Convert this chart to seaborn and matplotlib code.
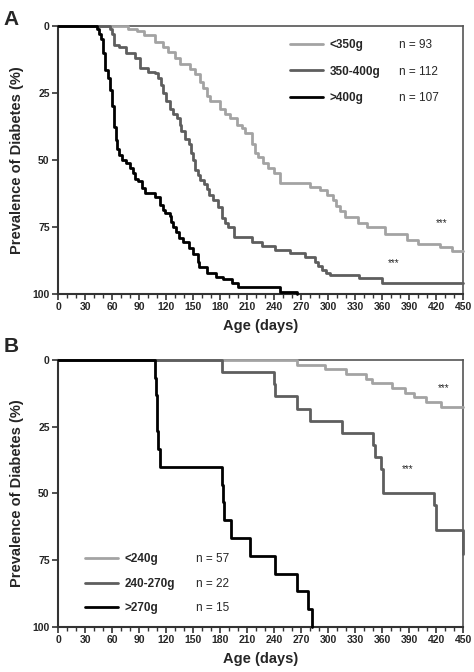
import matplotlib
matplotlib.use("Agg")
import matplotlib.pyplot as plt
from matplotlib.lines import Line2D
from matplotlib.ticker import MultipleLocator
import seaborn as sns
import pandas as pd

# panel A: days at which cumulative prevalence (%) steps up
a_light_days = [0, 78, 88, 95, 108, 117, 122, 130, 136, 147, 152, 158, 161, 165, 169, 180, 186, 191,
                199, 204, 208, 215, 219, 222, 228, 233, 240, 247, 280, 291, 299, 306, 309, 313, 319,
                333, 343, 363, 388, 400, 424, 438, 450]
a_light_pct = [0, 1, 2, 3.4, 5.8, 8, 9.6, 12, 14, 16, 18, 21, 23, 26, 28, 31, 33, 34.5,
               37, 38, 40, 44, 47.5, 49, 51, 53, 55, 58.7, 60, 61.2, 63, 65, 67, 69, 71.4,
               73.6, 75.1, 77.6, 79.9, 81.3, 82.6, 83.8, 83.8]

a_dark_days = [0, 58, 60, 62, 68, 76, 86, 91, 100, 108, 111, 114, 117, 120, 124, 128, 132, 135, 137,
               141, 145, 148, 150, 152, 155, 158, 162, 165, 168, 172, 178, 182, 186, 189, 195, 215,
               227, 241, 258, 274, 286, 289, 293, 298, 302, 334, 360, 450]
a_dark_pct = [0, 1, 3, 7, 8, 10, 12, 15.8, 17, 17.5, 19.5, 22, 25, 28, 31, 33, 34.5, 37, 39,
              42, 44, 47.5, 50, 53.7, 55.5, 57.5, 59, 61, 63, 65, 67.4, 71.8, 73.5, 75, 78.6, 80.5,
              82, 83.6, 84.8, 86.3, 88, 89.5, 91, 92, 93, 94.2, 95.8, 95.8]

a_black_days = [0, 43, 46, 48, 50, 52, 56, 58, 60, 62, 64, 66, 68, 71, 76, 80, 83, 86, 89, 93, 97,
                108, 113, 117, 119, 124, 126, 128, 131, 134, 139, 145, 150, 155, 157, 165, 176, 183,
                193, 200, 247, 265]
a_black_pct = [0, 1, 3, 5, 10, 16.4, 19.5, 24, 30, 37.6, 42.5, 46, 48, 50, 51.2, 53, 55, 57, 58, 60.6,
               62.4, 63.7, 66.8, 68.5, 69.9, 71, 73, 74.9, 77, 79.2, 80.5, 83, 85, 88, 89.8, 92.3,
               93.5, 94.5, 96, 97.5, 99.1, 100]

# panel B
b_light_days = [0, 265, 297, 320, 342, 349, 371, 386, 395, 409, 425, 450]
b_light_pct = [0, 1.75, 3.5, 5.26, 7.0, 8.77, 10.5, 12.3, 14.0, 15.8, 17.5, 17.5]

b_dark_days = [0, 182, 240, 241, 265, 280, 315, 350, 352, 359, 361, 418, 420, 450]
b_dark_pct = [0, 4.5, 9.1, 13.6, 18.2, 22.7, 27.3, 31.8, 36.4, 40.9, 50.0, 54.5, 63.6, 72.7]

b_black_days = [0, 108, 109, 110, 111, 113, 182, 183, 184, 192, 213, 241, 265, 278, 282]
b_black_pct = [0, 6.7, 13.3, 26.7, 33.3, 40.0, 46.7, 53.3, 60.0, 66.7, 73.3, 80.0, 86.7, 93.3, 100]

groups_a = ["<350g", "350-400g", ">400g"]
n_a = ["n = 93", "n = 112", "n = 107"]
groups_b = ["<240g", "240-270g", ">270g"]
n_b = ["n = 57", "n = 22", "n = 15"]

colors = ["#a3a3a3", "#5e5e5e", "#000000"]


def long_df(groups, days_list, pct_list):
    parts = []
    for g, d, p in zip(groups, days_list, pct_list):
        parts.append(pd.DataFrame({"group": g, "day": d, "pct": p}))
    return pd.concat(parts, ignore_index=True)


df_a = long_df(groups_a, [a_light_days, a_dark_days, a_black_days],
               [a_light_pct, a_dark_pct, a_black_pct])
df_b = long_df(groups_b, [b_light_days, b_dark_days, b_black_days],
               [b_light_pct, b_dark_pct, b_black_pct])

sns.set_style("ticks")
plt.rcParams["font.family"] = ["Liberation Sans", "DejaVu Sans"]

fig = plt.figure(figsize=(4.74, 6.72), dpi=100)
ax_a = fig.add_axes([0.1224, 0.5625, 0.8544, 0.3988])
ax_b = fig.add_axes([0.1224, 0.0670, 0.8544, 0.3973])


def draw_panel(ax, df, groups, ns, stars, leg_loc, leg_anchor, spacing):
    sns.lineplot(data=df, x="day", y="pct", hue="group", hue_order=groups,
                 palette=colors, estimator=None, sort=False, drawstyle="steps-post",
                 linewidth=2.0, legend=False, ax=ax)
    for ln in ax.get_lines():
        ln.set_clip_on(False)
        ln.set_zorder(3)
    ax.set_xlim(0, 450)
    ax.set_ylim(100, 0)
    ax.xaxis.set_major_locator(MultipleLocator(30))
    ax.xaxis.set_minor_locator(MultipleLocator(10))
    ax.set_yticks([0, 25, 50, 75, 100])
    ax.tick_params(axis="both", which="major", direction="out", length=4, width=1.2,
                   labelsize=7.5, pad=2, color="#333333")
    ax.tick_params(axis="x", which="minor", direction="out", length=3, width=1.0, color="#333333")
    for lab in ax.get_xticklabels() + ax.get_yticklabels():
        lab.set_fontweight("bold")
    for side in ["left", "bottom"]:
        ax.spines[side].set_linewidth(1.5)
        ax.spines[side].set_color("#333333")
    for side in ["top", "right"]:
        ax.spines[side].set_linewidth(1.2)
        ax.spines[side].set_color("#555555")
    ax.set_xlabel("Age (days)", fontsize=10.5, fontweight="bold", labelpad=5)
    ax.set_ylabel("Prevalence of Diabetes (%)", fontsize=10.5, fontweight="bold", labelpad=6)

    handles = [Line2D([], [], color=c, linewidth=2.0) for c in colors]
    leg1 = ax.legend(handles, groups, loc=leg_loc, bbox_to_anchor=leg_anchor[0], frameon=False,
                     handlelength=2.8, handletextpad=0.6, labelspacing=spacing,
                     prop={"weight": "bold", "size": 8.5}, borderaxespad=0)
    ax.add_artist(leg1)
    blank = [Line2D([], [], alpha=0) for _ in ns]
    ax.legend(blank, ns, loc=leg_loc, bbox_to_anchor=leg_anchor[1], frameon=False,
              handlelength=0, handletextpad=0, labelspacing=spacing,
              prop={"size": 8.5}, borderaxespad=0)

    for x, y in stars:
        ax.text(x, y, "***", fontsize=7, ha="center", va="center")


# star annotations: (day, %) positions
stars_a = [(426, 73.5), (373, 88.5)]
stars_b = [(428, 10.5), (388, 41)]

draw_panel(ax_a, df_a, groups_a, n_a, stars_a, "upper left",
           [(0.56, 0.97), (0.83, 0.97)], 1.25)
draw_panel(ax_b, df_b, groups_b, n_b, stars_b, "lower left",
           [(0.054, 0.03), (0.328, 0.03)], 1.05)

fig.text(0.008, 0.985, "A", fontsize=15, fontweight="bold", va="top")
fig.text(0.008, 0.498, "B", fontsize=15, fontweight="bold", va="top")

fig.savefig("out.png", dpi=100)
